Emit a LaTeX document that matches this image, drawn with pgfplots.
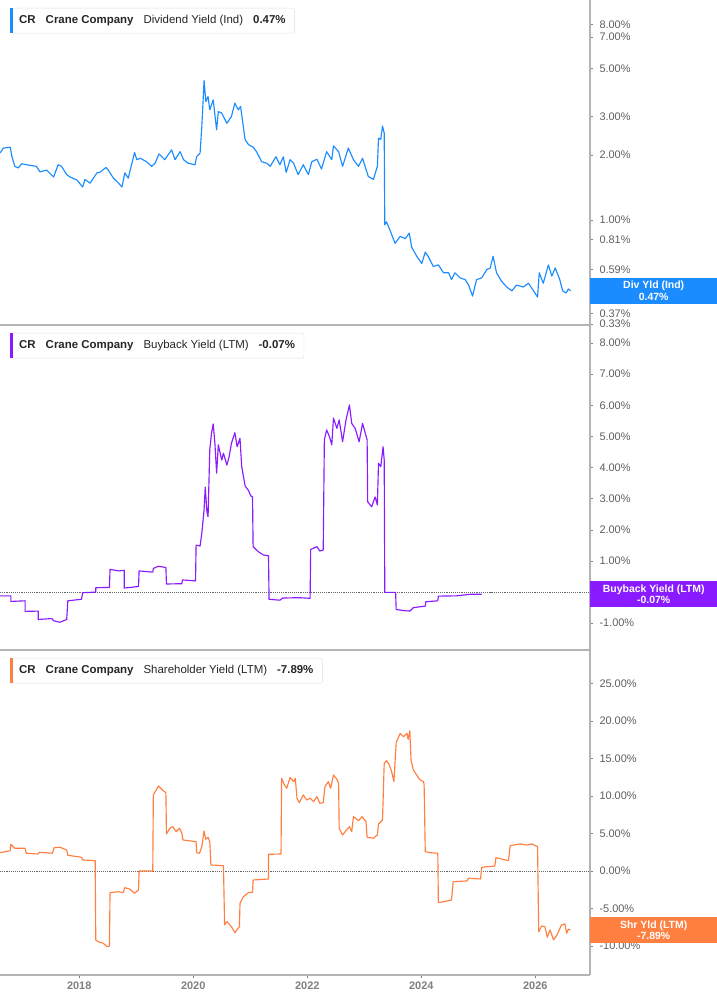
\documentclass[border=0pt]{standalone}
\usepackage{fontspec}
\setmainfont{Liberation Sans}
\usepackage{pgfplots}
\pgfplotsset{compat=1.18}

\definecolor{divblue}{HTML}{1A8CFF}
\definecolor{bbpurple}{HTML}{8A1AFF}
\definecolor{shrorange}{HTML}{FF7F40}
\definecolor{axgray}{HTML}{B4B4B4}
\definecolor{lblgray}{HTML}{5F5F5F}

\pgfplotsset{
  panel/.style={
    scale only axis, width=590bp, height=325bp,
    xmin=2016.61, xmax=2026.96,
    axis x line*=bottom, axis y line*=right,
    axis line style={draw=axgray, line width=1.2bp},
    yticklabel pos=right,
    tick align=outside,
    major tick length=3bp,
    tick style={draw=gray, line width=0.6bp},
    y tick label style={font=\fontsize{11}{13}\selectfont, text=lblgray, anchor=west, xshift=3bp},
    xtick=\empty,
    clip=false,
    every axis plot/.append style={line width=1.15bp, line join=round},
  },
}
\tikzset{
  ttl/.style={anchor=north west, xshift=10bp, yshift=-8bp, draw=gray!25, fill=white,
    rounded corners=2bp, inner xsep=9bp, minimum height=25bp,
    font=\fontsize{11.5}{13}\selectfont, text=black!85},
  valbox/.style={anchor=west, text=white, font=\bfseries\fontsize{10.5}{11.5}\selectfont,
    align=center, minimum width=127bp, minimum height=26bp, inner sep=0pt},
}

\begin{document}
\begin{tikzpicture}
\useasboundingbox (0,0) rectangle (717bp,1005bp);

% dividend yield
\begin{axis}[panel, at={(0,680bp)},
  ymode=log, ymin=0.327, ymax=10.4, yminorticks=false,
  ytick={0.33,0.37,0.59,0.81,1,2,3,5,7,8},
  yticklabels={0.33\%,0.37\%,0.59\%,0.81\%,1.00\%,2.00\%,3.00\%,5.00\%,7.00\%,8.00\%}]
\addplot[divblue] coordinates {
(2016.61,2.04)(2016.67,2.15)(2016.79,2.17)(2016.82,1.96)(2016.87,1.77)(2016.93,1.74)
(2016.99,1.82)(2017.08,1.80)(2017.19,1.78)(2017.25,1.77)(2017.31,1.67)(2017.43,1.70)
(2017.55,1.58)(2017.63,1.80)(2017.69,1.77)(2017.78,1.62)(2017.84,1.58)(2017.96,1.53)
(2018.06,1.42)(2018.10,1.54)(2018.19,1.48)(2018.31,1.65)(2018.36,1.66)(2018.47,1.75)
(2018.51,1.70)(2018.60,1.56)(2018.69,1.48)(2018.75,1.42)(2018.80,1.65)(2018.86,1.56)
(2018.97,2.05)(2019.01,1.90)(2019.07,1.93)(2019.18,1.86)(2019.27,1.77)(2019.33,1.83)
(2019.40,2.02)(2019.50,1.90)(2019.62,2.11)(2019.68,1.90)(2019.77,2.07)(2019.83,1.90)
(2019.91,1.83)(2020.03,1.80)(2020.06,1.96)(2020.12,2.04)(2020.15,2.70)(2020.19,4.41)
(2020.22,3.53)(2020.26,3.72)(2020.29,3.23)(2020.35,3.59)(2020.41,2.61)(2020.44,3.17)
(2020.50,3.12)(2020.59,2.80)(2020.67,3.01)(2020.73,3.47)(2020.79,3.23)(2020.83,3.35)
(2020.91,2.35)(2020.97,2.23)(2021.05,2.17)(2021.11,2.07)(2021.20,1.86)(2021.29,1.83)
(2021.35,1.77)(2021.45,1.96)(2021.52,1.80)(2021.58,1.96)(2021.63,1.66)(2021.70,1.90)
(2021.76,1.83)(2021.84,1.62)(2021.93,1.80)(2022.02,1.62)(2022.08,1.86)(2022.17,1.91)
(2022.25,1.72)(2022.34,2.07)(2022.43,1.90)(2022.46,2.20)(2022.55,2.07)(2022.62,1.77)
(2022.72,2.15)(2022.81,1.90)(2022.90,1.77)(2022.97,1.93)(2023.07,1.59)(2023.16,1.54)
(2023.23,1.77)(2023.25,2.39)(2023.29,2.36)(2023.32,2.72)(2023.35,2.52)(2023.36,0.95)
(2023.39,0.98)(2023.45,0.90)(2023.54,0.78)(2023.63,0.84)(2023.72,0.82)(2023.79,0.87)
(2023.83,0.75)(2023.92,0.68)(2024.01,0.63)(2024.07,0.71)(2024.12,0.68)(2024.21,0.61)
(2024.30,0.62)(2024.39,0.57)(2024.48,0.57)(2024.53,0.53)(2024.59,0.57)(2024.68,0.54)
(2024.77,0.53)(2024.83,0.50)(2024.90,0.445)(2024.97,0.53)(2025.06,0.54)(2025.15,0.59)
(2025.21,0.60)(2025.26,0.68)(2025.32,0.57)(2025.41,0.52)(2025.50,0.49)(2025.59,0.47)
(2025.67,0.50)(2025.79,0.49)(2025.88,0.51)(2025.97,0.47)(2026.04,0.44)(2026.07,0.57)
(2026.14,0.51)(2026.23,0.62)(2026.29,0.55)(2026.35,0.60)(2026.43,0.53)(2026.48,0.47)
(2026.54,0.46)(2026.58,0.48)(2026.62,0.47)
};
\node[ttl] (t1) at (rel axis cs:0,1) {\textbf{CR}\hspace{10bp}\textbf{Crane Company}\hspace{10bp}Dividend Yield (Ind)\hspace{10bp}\textbf{0.47\%}};
\fill[divblue] (t1.north west) rectangle ([xshift=2.5bp]t1.south west);
\node[valbox, fill=divblue] at (axis cs:2026.96,0.47) {Div Yld (Ind)\\0.47\%};
\end{axis}

% buyback yield
\begin{axis}[panel, at={(0,355bp)},
  ymin=-1.86, ymax=8.58,
  ytick={-1,1,2,3,4,5,6,7,8},
  yticklabels={-1.00\%,1.00\%,2.00\%,3.00\%,4.00\%,5.00\%,6.00\%,7.00\%,8.00\%}]
\addplot[gray!80!black, densely dotted, line width=0.8bp] coordinates {(2016.61,0)(2026.96,0)};
\addplot[bbpurple] coordinates {
(2016.61,-0.12)(2016.80,-0.12)(2016.80,-0.30)(2017.05,-0.28)(2017.05,-0.62)(2017.28,-0.61)
(2017.28,-0.88)(2017.52,-0.85)(2017.55,-0.92)(2017.66,-0.97)(2017.78,-0.88)(2017.80,-0.28)
(2018.04,-0.23)(2018.06,-0.02)(2018.29,0.00)(2018.29,0.14)(2018.53,0.15)(2018.54,0.73)
(2018.69,0.68)(2018.79,0.70)(2018.79,0.13)(2019.04,0.18)(2019.05,0.68)(2019.29,0.64)
(2019.30,0.76)(2019.39,0.83)(2019.52,0.79)(2019.53,0.26)(2019.80,0.27)(2019.81,0.39)
(2020.04,0.36)(2020.05,1.51)(2020.12,1.48)(2020.15,1.89)(2020.19,2.64)(2020.21,3.37)
(2020.24,2.58)(2020.26,2.42)(2020.29,4.57)(2020.32,5.10)(2020.35,5.40)(2020.38,4.78)
(2020.41,3.82)(2020.44,4.73)(2020.50,4.24)(2020.53,4.46)(2020.59,4.08)(2020.63,4.35)
(2020.67,4.78)(2020.73,5.12)(2020.77,4.67)(2020.82,4.94)(2020.85,4.03)(2020.91,3.41)
(2020.97,3.26)(2021.01,3.09)(2021.04,3.06)(2021.05,1.46)(2021.14,1.30)(2021.23,1.19)
(2021.32,1.17)(2021.33,-0.23)(2021.52,-0.26)(2021.57,-0.19)(2021.87,-0.18)(2022.05,-0.20)
(2022.06,1.37)(2022.17,1.46)(2022.22,1.32)(2022.28,1.35)(2022.30,4.89)(2022.34,5.21)
(2022.39,4.99)(2022.43,4.73)(2022.46,5.59)(2022.52,5.26)(2022.56,5.53)(2022.62,4.83)
(2022.68,5.53)(2022.74,6.01)(2022.78,5.42)(2022.84,5.26)(2022.91,4.83)(2022.97,5.42)
(2023.05,4.89)(2023.06,2.90)(2023.13,2.74)(2023.19,3.06)(2023.23,2.80)(2023.25,4.14)
(2023.29,4.03)(2023.33,4.67)(2023.35,4.24)(2023.36,-0.01)(2023.55,-0.01)(2023.56,-0.56)
(2023.72,-0.60)(2023.80,-0.61)(2023.86,-0.50)(2024.07,-0.45)(2024.08,-0.31)(2024.29,-0.28)
(2024.30,-0.13)(2024.62,-0.12)(2024.86,-0.07)(2025.06,-0.07)
};
\node[ttl] (t2) at (rel axis cs:0,1) {\textbf{CR}\hspace{10bp}\textbf{Crane Company}\hspace{10bp}Buyback Yield (LTM)\hspace{10bp}\textbf{-0.07\%}};
\fill[bbpurple] (t2.north west) rectangle ([xshift=2.5bp]t2.south west);
\node[valbox, fill=bbpurple] at (axis cs:2026.96,-0.07) {Buyback Yield (LTM)\\-0.07\%};
\end{axis}

% shareholder yield
\begin{axis}[panel, at={(0,30bp)},
  ymin=-13.86, ymax=29.44,
  ytick={-10,-5,0,5,10,15,20,25},
  yticklabels={-10.00\%,-5.00\%,0.00\%,5.00\%,10.00\%,15.00\%,20.00\%,25.00\%},
  xtick={2018,2020,2022,2024,2026},
  xticklabels={2018,2020,2022,2024,2026},
  x tick label style={font=\bfseries\fontsize{11}{13}\selectfont, text=gray}]
\addplot[gray!80!black, densely dotted, line width=0.8bp] coordinates {(2016.61,0)(2026.96,0)};
\addplot[shrorange] coordinates {
(2016.61,2.44)(2016.79,2.70)(2016.80,3.56)(2016.87,3.02)(2017.05,3.02)(2017.07,2.36)
(2017.28,2.26)(2017.30,2.49)(2017.53,2.36)(2017.56,3.10)(2017.66,3.16)(2017.78,2.80)
(2017.80,2.09)(2018.04,1.83)(2018.06,1.47)(2018.28,1.37)(2018.29,-9.19)(2018.33,-9.42)
(2018.42,-9.63)(2018.49,-10.09)(2018.53,-9.99)(2018.54,-2.89)(2018.69,-2.76)(2018.77,-2.89)
(2018.80,-2.22)(2018.89,-2.44)(2018.97,-2.97)(2019.04,-2.53)(2019.05,0.00)(2019.29,0.00)
(2019.30,10.13)(2019.39,11.32)(2019.46,10.79)(2019.52,10.43)(2019.53,4.93)(2019.59,5.69)
(2019.64,5.91)(2019.70,5.24)(2019.76,5.69)(2019.80,5.02)(2019.82,4.13)(2020.05,3.90)
(2020.06,2.44)(2020.11,2.36)(2020.15,3.24)(2020.19,5.33)(2020.22,4.22)(2020.26,4.49)
(2020.29,3.90)(2020.31,0.80)(2020.53,0.71)(2020.55,-7.19)(2020.59,-6.75)(2020.67,-7.42)
(2020.73,-8.22)(2020.81,-7.42)(2020.82,-4.30)(2020.88,-3.42)(2020.97,-2.89)(2021.04,-2.84)
(2021.05,-1.20)(2021.32,-1.07)(2021.32,2.22)(2021.54,2.26)(2021.55,12.35)(2021.60,11.46)
(2021.64,11.02)(2021.70,12.48)(2021.76,11.90)(2021.79,12.35)(2021.82,9.69)(2021.86,9.10)
(2021.93,10.13)(2021.99,9.46)(2022.05,9.69)(2022.11,9.23)(2022.17,9.90)(2022.22,9.02)
(2022.28,9.10)(2022.31,11.23)(2022.37,11.90)(2022.41,11.02)(2022.46,12.79)(2022.52,12.22)
(2022.55,11.68)(2022.56,5.69)(2022.62,4.80)(2022.69,5.46)(2022.74,5.91)(2022.78,5.24)
(2022.81,7.23)(2022.90,6.70)(2022.96,7.23)(2023.03,6.57)(2023.05,4.49)(2023.16,4.36)
(2023.23,4.80)(2023.25,6.26)(2023.32,6.79)(2023.35,14.35)(2023.39,14.70)(2023.44,14.12)
(2023.48,13.23)(2023.52,11.90)(2023.56,17.09)(2023.63,18.34)(2023.69,17.89)(2023.75,18.34)
(2023.77,17.54)(2023.80,18.69)(2023.82,14.79)(2023.86,13.46)(2023.92,12.79)(2023.98,12.12)
(2024.04,11.90)(2024.05,11.46)(2024.07,2.57)(2024.15,2.44)(2024.29,2.36)(2024.30,-4.22)
(2024.45,-4.00)(2024.53,-3.86)(2024.56,-1.43)(2024.80,-1.33)(2024.83,-0.97)(2025.04,-1.07)
(2025.06,0.49)(2025.29,0.67)(2025.31,1.77)(2025.53,1.37)(2025.56,3.37)(2025.73,3.60)
(2025.85,3.46)(2025.94,3.60)(2026.04,3.24)(2026.06,-8.09)(2026.11,-7.33)(2026.17,-7.42)
(2026.21,-8.83)(2026.26,-7.86)(2026.32,-9.19)(2026.38,-8.53)(2026.46,-7.19)(2026.52,-7.06)
(2026.55,-8.30)(2026.58,-7.77)(2026.62,-7.86)
};
\node[ttl] (t3) at (rel axis cs:0,1) {\textbf{CR}\hspace{10bp}\textbf{Crane Company}\hspace{10bp}Shareholder Yield (LTM)\hspace{10bp}\textbf{-7.89\%}};
\fill[shrorange] (t3.north west) rectangle ([xshift=2.5bp]t3.south west);
\node[valbox, fill=shrorange] at (axis cs:2026.96,-7.89) {Shr Yld (LTM)\\-7.89\%};
\end{axis}
\end{tikzpicture}
\end{document}
